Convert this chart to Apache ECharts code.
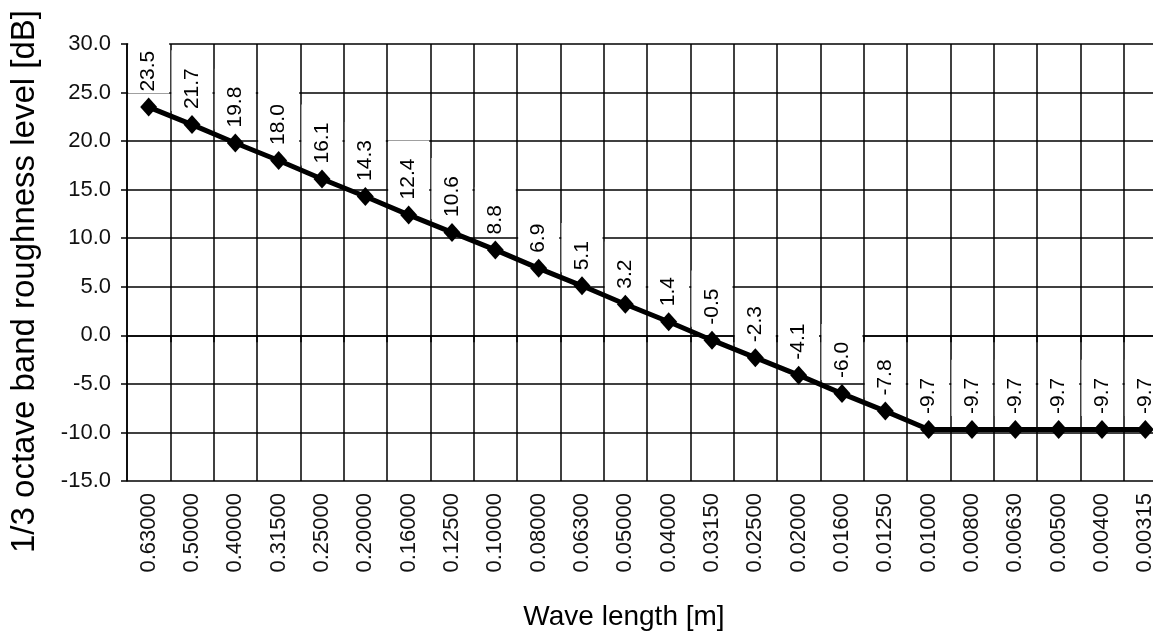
<!DOCTYPE html>
<html>
<head>
<meta charset="utf-8">
<script src="https://cdn.jsdelivr.net/npm/echarts@6/dist/echarts.min.js"></script>
<style>
html,body{margin:0;padding:0;background:#fff;overflow:hidden;}
#chart{width:1167px;height:638px;}
</style>
</head>
<body>
<div id="chart"></div>
<script>
const categories = ['0.63000','0.50000','0.40000','0.31500','0.25000','0.20000','0.16000','0.12500','0.10000','0.08000','0.06300','0.05000','0.04000','0.03150','0.02500','0.02000','0.01600','0.01250','0.01000','0.00800','0.00630','0.00500','0.00400','0.00315'];
const roughness = [23.5,21.7,19.8,18.0,16.1,14.3,12.4,10.6,8.8,6.9,5.1,3.2,1.4,-0.5,-2.3,-4.1,-6.0,-7.8,-9.7,-9.7,-9.7,-9.7,-9.7,-9.7];
const yTicks = { min: -15, max: 30, step: 5 };
const xTitle = 'Wave length [m]';
const yTitle = '1/3 octave band roughness level [dB]';

const FONT = '"Liberation Sans", Arial, sans-serif';
const chart = echarts.init(document.getElementById('chart'), null, {renderer: 'canvas'});
chart.setOption({
  animation: false,
  backgroundColor: '#fff',
  grid: { left: 127, right: 0, top: 44, bottom: 157, containLabel: false },
  xAxis: {
    type: 'category',
    data: categories,
    boundaryGap: true,
    name: xTitle,
    nameLocation: 'middle',
    nameGap: 122,
    nameTextStyle: { fontFamily: FONT, fontSize: 28, color: '#000', padding: [0, 46, 0, 0] },
    axisLine: { show: true, lineStyle: { color: '#000', width: 1.5 } },
    axisTick: { show: true, interval: 0, length: 7, lineStyle: { color: '#000', width: 1.5 } },
    axisLabel: { interval: 0, rotate: 90, margin: 12, fontFamily: FONT, fontSize: 22, color: '#111' },
    splitLine: { show: true, interval: 0, lineStyle: { color: '#000', width: 1.5 } }
  },
  yAxis: {
    type: 'value',
    min: yTicks.min, max: yTicks.max, interval: yTicks.step,
    name: yTitle,
    nameLocation: 'middle',
    nameRotate: 90,
    nameGap: 86,
    nameTextStyle: { fontFamily: FONT, fontSize: 33, color: '#000', padding: [0, 38, 0, 0] },
    axisLine: { show: true, lineStyle: { color: '#000', width: 1.5 } },
    axisTick: { show: true, length: 6, lineStyle: { color: '#000', width: 1.5 } },
    axisLabel: { margin: 16, fontFamily: FONT, fontSize: 22, color: '#111', formatter: v => v.toFixed(1) },
    splitLine: { show: true, lineStyle: { color: '#000', width: 1.5 } }
  },
  series: [{
    type: 'line',
    data: roughness,
    symbol: 'diamond',
    symbolSize: [17, 19],
    lineStyle: { color: '#000', width: 5 },
    itemStyle: { color: '#000' },
    z: 3,
    label: {
      show: true,
      position: 'top',
      distance: 4,
      rotate: 90,
      align: 'left',
      verticalAlign: 'middle',
      fontFamily: FONT,
      fontSize: 21,
      color: '#000',
      backgroundColor: '#fff',
      padding: [10, 18, 10, 2],
      formatter: p => p.value.toFixed(1)
    }
  }]
});
</script>
</body>
</html>
